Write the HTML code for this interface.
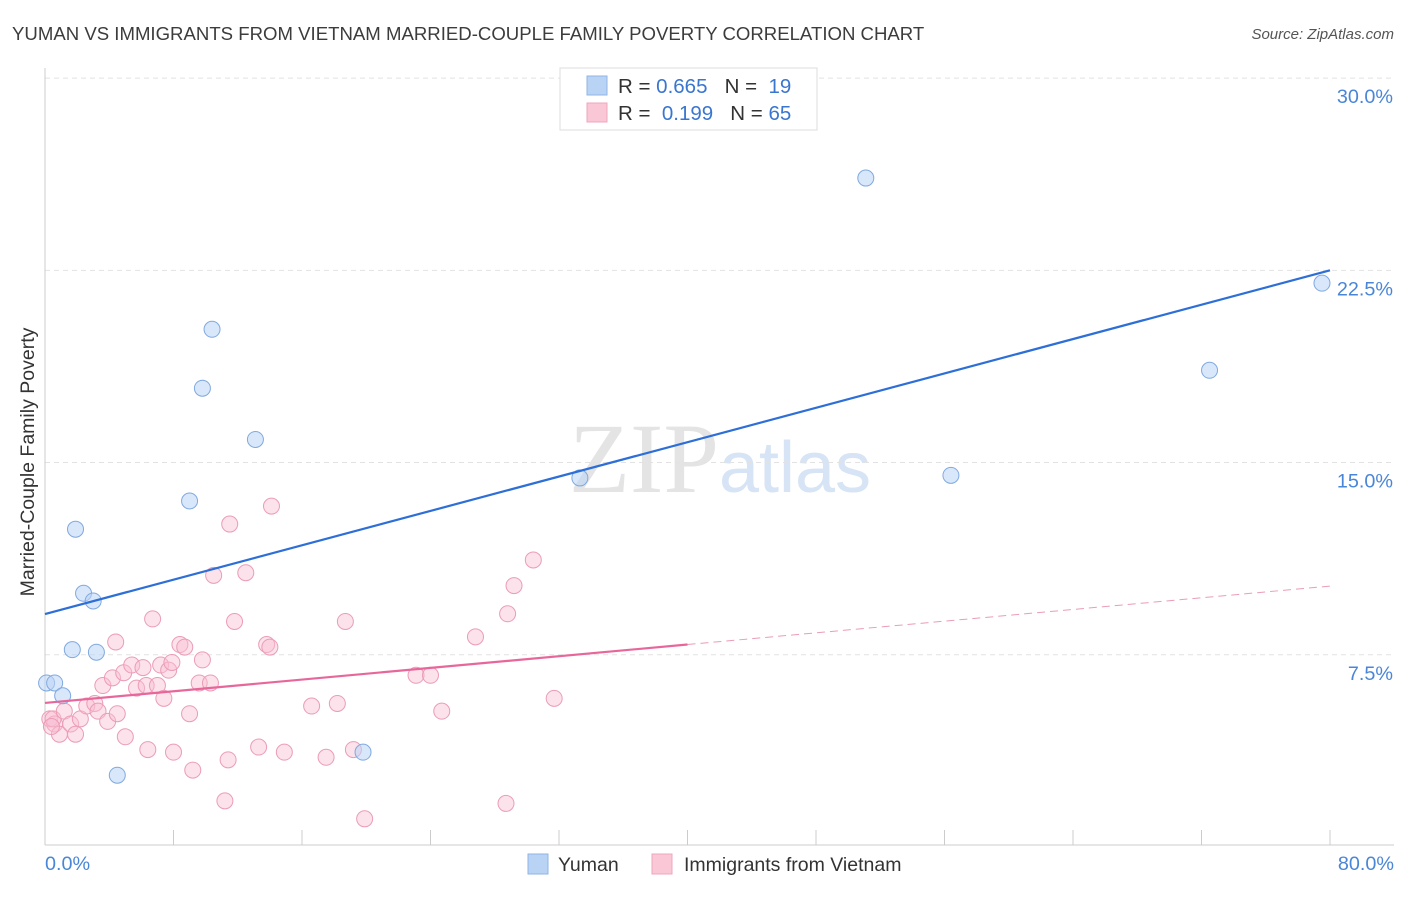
<!DOCTYPE html>
<html><head><meta charset="utf-8"><style>
body{margin:0;background:#fff;font-family:"Liberation Sans",sans-serif;}
</style></head><body>
<svg id="c" width="1406" height="892" xmlns="http://www.w3.org/2000/svg" style="font-family:'Liberation Sans',sans-serif">
<text x="12" y="40" font-size="18.6" fill="#3c3c3c">YUMAN VS IMMIGRANTS FROM VIETNAM MARRIED-COUPLE FAMILY POVERTY CORRELATION CHART</text>
<text x="1394" y="39" font-size="15" fill="#555" text-anchor="end" font-style="italic">Source: ZipAtlas.com</text>
<text x="28" y="456" font-size="19.5" fill="#333" text-anchor="middle" transform="rotate(-90 34 456)">Married-Couple Family Poverty</text>
<text x="720" y="492" font-size="100" fill="#e4e4e4" text-anchor="middle" font-family="Liberation Serif">ZIP<tspan fill="#d6e4f5" font-family="Liberation Sans" font-size="72">atlas</tspan></text>
<g id="grid"></g><g id="marks"></g>
<rect x="560" y="68" width="257" height="62" fill="#fff" stroke="#ddd"/>
<rect x="587" y="76" width="20" height="19" fill="#b9d3f5" stroke="#8fb4e6"/>
<rect x="587" y="103" width="20" height="19" fill="#f9c7d6" stroke="#eea7bd"/>
<text x="618" y="93" font-size="20.5" fill="#333">R = <tspan fill="#3a76d0">0.665</tspan>&#160;&#160;&#160;N = &#160;<tspan fill="#3a76d0">19</tspan></text>
<text x="618" y="120" font-size="20.5" fill="#333">R = &#160;<tspan fill="#3a76d0">0.199</tspan>&#160;&#160;&#160;N = <tspan fill="#3a76d0">65</tspan></text>
<text x="45" y="870" font-size="19.8" fill="#4a86d8">0.0%</text>
<text x="1394" y="870" font-size="19.8" fill="#4a86d8" text-anchor="end">80.0%</text>
<rect x="528" y="854" width="20" height="20" fill="#b9d3f5" stroke="#8fb4e6"/>
<text x="558" y="871" font-size="19.5" fill="#333">Yuman</text>
<rect x="652" y="854" width="20" height="20" fill="#f9c7d6" stroke="#eea7bd"/>
<text x="684" y="871" font-size="19.5" fill="#333">Immigrants from Vietnam</text>
</svg>
<script>
const yTicks=[7.5,15,22.5,30];
const yTickLabels=["7.5%","15.0%","22.5%","30.0%"];
const blueX=[0.1,0.6,1.1,1.9,2.4,3.0,1.7,3.2,4.5,10.4,9.8,9.0,13.1,19.8,33.3,51.1,56.4,72.5,79.5];
const blueY=[6.4,6.4,5.9,12.4,9.9,9.6,7.7,7.6,2.8,20.2,17.9,13.5,15.9,3.7,14.4,26.1,14.5,18.6,22.0];
const pinkX=[0.3,0.6,0.9,0.5,1.2,1.6,1.9,2.2,2.6,3.1,3.3,3.6,3.9,4.2,4.4,4.5,5.0,4.9,5.4,5.7,6.1,6.3,6.4,6.7,7.0,7.2,7.4,7.7,7.9,8.0,8.4,8.7,9.0,9.2,9.6,9.8,10.3,10.5,11.2,11.4,11.5,11.8,12.5,13.3,13.8,14.0,14.1,14.9,16.6,17.5,18.2,18.7,19.2,19.9,23.1,24.0,24.7,26.8,28.7,28.8,29.2,30.4,31.7,0.4];
const pinkY=[5.0,4.8,4.4,5.0,5.3,4.8,4.4,5.0,5.5,5.6,5.3,6.3,4.9,6.6,8.0,5.2,4.3,6.8,7.1,6.2,7.0,6.3,3.8,8.9,6.3,7.1,5.8,6.9,7.2,3.7,7.9,7.8,5.2,3.0,6.4,7.3,6.4,10.6,1.8,3.4,12.6,8.8,10.7,3.9,7.9,7.8,13.3,3.7,5.5,3.5,5.6,8.8,3.8,1.1,6.7,6.7,5.3,8.2,1.7,9.1,10.2,11.2,5.8,4.7];
const blueTrend=[9.09,22.5];
const pinkTrend=[5.62,10.18];
const pinkSolidEnd=40;
const sx=v=>45+v/80*1285, sy=v=>847-v*25.63;
const NS="http://www.w3.org/2000/svg";
function mk(t,a,p){const e=document.createElementNS(NS,t);for(const k in a)e.setAttribute(k,a[k]);p.appendChild(e);return e;}
const g=document.getElementById('grid'), m=document.getElementById('marks');
yTicks.forEach((t,i)=>{
  const l=mk('line',{x1:45,x2:1394,y1:sy(t),y2:sy(t),stroke:'#e2e2e2','stroke-dasharray':'5,4'},g);
  
  
  const tx=mk('text',{x:1393,y:sy(t)+25,'font-size':19.8,fill:'#4a86d8','text-anchor':'end'},g);
  tx.textContent=yTickLabels[i];
  
  
});
const ax=mk('line',{x1:45,x2:1394,y1:845,y2:845,stroke:'#ccc'},g);


const ay=mk('line',{x1:45,x2:45,y1:68,y2:845,stroke:'#ccc'},g);


for(let i=0;i<=10;i++){const t=mk('line',{x1:sx(i*8),x2:sx(i*8),y1:830,y2:845,stroke:'#ccc'},g);

}
pinkX.forEach((x,i)=>{const c=mk('circle',{cx:sx(x),cy:sy(pinkY[i]),r:8,fill:'rgba(249,190,210,0.45)',stroke:'#eb9cb6','stroke-width':1},m);

});
blueX.forEach((x,i)=>{const c=mk('circle',{cx:sx(x),cy:sy(blueY[i]),r:8,fill:'rgba(185,211,245,0.55)',stroke:'#7fa9e0','stroke-width':1},m);

});
const bl=mk('line',{x1:sx(0),y1:sy(blueTrend[0]),x2:sx(80),y2:sy(blueTrend[1]),stroke:'#2d6fd6','stroke-width':2.2},m);


const pm=pinkTrend[0]+(pinkTrend[1]-pinkTrend[0])*pinkSolidEnd/80;
const pl=mk('line',{x1:sx(0),y1:sy(pinkTrend[0]),x2:sx(pinkSolidEnd),y2:sy(pm),stroke:'#e8679a','stroke-width':2.2},m);


const pd=mk('line',{x1:sx(pinkSolidEnd),y1:sy(pm),x2:sx(80),y2:sy(pinkTrend[1]),stroke:'#eb9cb6','stroke-width':1,'stroke-dasharray':'8,5'},m);


</script>
</body></html>
